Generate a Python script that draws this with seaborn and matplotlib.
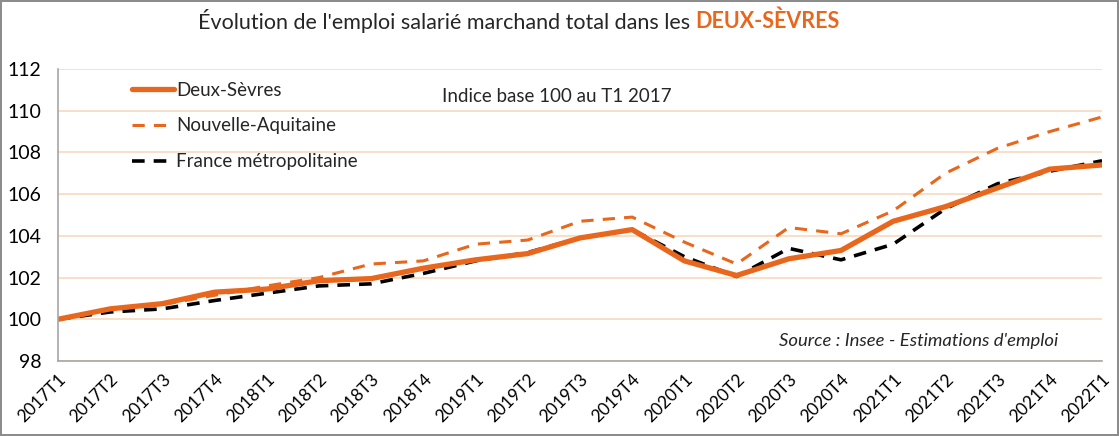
import pandas as pd
import seaborn as sns
import matplotlib.pyplot as plt
from matplotlib.lines import Line2D

quarters = ['2017T1', '2017T2', '2017T3', '2017T4', '2018T1', '2018T2', '2018T3',
            '2018T4', '2019T1', '2019T2', '2019T3', '2019T4', '2020T1', '2020T2',
            '2020T3', '2020T4', '2021T1', '2021T2', '2021T3', '2021T4', '2022T1']
deux_sevres = [100.0, 100.5, 100.75, 101.3, 101.45, 101.85, 101.95, 102.45, 102.85, 103.15,
               103.9, 104.3, 102.8, 102.1, 102.9, 103.3, 104.7, 105.4, 106.3, 107.2, 107.4]
nouvelle_aquitaine = [100.0, 100.45, 100.7, 101.15, 101.6, 102.0, 102.65, 102.8, 103.6, 103.8,
                      104.7, 104.9, 103.7, 102.65, 104.4, 104.1, 105.2, 107.0, 108.2, 109.0, 109.7]
france_metro = [100.0, 100.35, 100.5, 100.9, 101.25, 101.6, 101.7, 102.2, 102.8, 103.2,
                103.9, 104.3, 103.0, 102.05, 103.4, 102.85, 103.6, 105.3, 106.5, 107.1, 107.6]

orange = '#E8671C'
grid_col = '#FBD8BC'
axis_col = '#A6A6A6'

sns.set_style('white')
plt.rcParams['font.family'] = ['Lato', 'DejaVu Sans']

fig = plt.figure(figsize=(11.19, 4.36), dpi=100)
fig.patch.set_edgecolor('#8C8C8C')
fig.patch.set_linewidth(1.5)
ax = fig.add_axes([58 / 1119, 1 - 361 / 436, (1102 - 58) / 1119, (361 - 69) / 436])

sns.lineplot(x=quarters, y=nouvelle_aquitaine, ax=ax, color=orange, lw=2.2,
             linestyle=(0, (4, 3)), sort=False)
sns.lineplot(x=quarters, y=france_metro, ax=ax, color='black', lw=2.6,
             linestyle=(0, (3.5, 2.5)), sort=False)
sns.lineplot(x=quarters, y=deux_sevres, ax=ax, color=orange, lw=3.8, sort=False)

ax.set_xlim(0, len(quarters) - 1)
ax.set_ylim(98, 112)
ax.set_yticks(range(98, 113, 2))
ax.yaxis.grid(True, color=grid_col, lw=1.2)
ax.set_axisbelow(True)
for s in ['top', 'right']:
    ax.spines[s].set_visible(False)
for s in ['left', 'bottom']:
    ax.spines[s].set_color(axis_col)
    ax.spines[s].set_linewidth(1.2)
ax.tick_params(axis='both', which='major', direction='out', length=5, width=1,
               color=axis_col, colors='black')
ax.tick_params(axis='y', labelsize=14, pad=7)
ax.tick_params(axis='x', labelsize=12.5, pad=2)
plt.setp(ax.get_xticklabels(), rotation=45, ha='right', rotation_mode='anchor')

handles = [Line2D([], [], color=orange, lw=3.8),
           Line2D([], [], color=orange, lw=2.2, linestyle=(0, (4, 3))),
           Line2D([], [], color='black', lw=2.6, linestyle=(0, (3.5, 2.5)))]
labels = ['Deux-Sèvres', 'Nouvelle-Aquitaine', 'France métropolitaine']
ax.legend(handles, labels, loc='upper left', bbox_to_anchor=(0.06, 0.995), frameon=False,
          fontsize=13.5, handlelength=2.25, handletextpad=0.1, labelspacing=1.0,
          borderaxespad=0.2)

ax.text(0.368, 0.905, 'Indice base 100 au T1 2017', transform=ax.transAxes,
        fontsize=13.5, va='center', ha='left')
ax.text(0.958, 0.07, "Source : Insee - Estimations d'emploi", transform=ax.transAxes,
        fontsize=13.3, va='center', ha='right', style='italic')

t1 = fig.text(198 / 1119, 1 - 21 / 436, "Évolution de l'emploi salarié marchand total dans les ",
              fontsize=15.5, va='center', ha='left')
fig.canvas.draw()
ax.annotate('DEUX-SÈVRES', xy=(1, 0.5), xycoords=t1, va='center', ha='left',
            fontsize=15.5, color=orange, fontweight='bold', annotation_clip=False)

fig.savefig('out.png', dpi=100)
